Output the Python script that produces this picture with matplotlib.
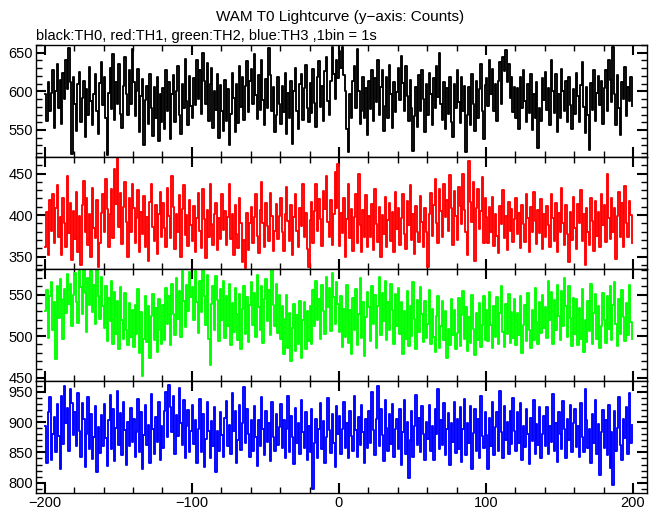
import numpy as np
import matplotlib
matplotlib.use('Agg')
import matplotlib.pyplot as plt
from matplotlib.ticker import MultipleLocator

plt.rcParams['font.family'] = ['Liberation Sans', 'DejaVu Sans']

# 1 s bins, t = -200 ... 199
t_start = -200

th0 = [596, 561, 612, 574, 598, 628, 553, 601, 635, 579, 615, 558, 624, 590, 641, 603, 656, 612, 519, 618,
       583, 549, 609, 625, 560, 592, 614, 541, 603, 570, 631, 588, 556, 597, 622, 574, 545, 611, 638, 582,
       619, 566, 518, 598, 630, 577, 648, 563, 612, 584, 636, 571, 553, 607, 644, 596, 570, 627, 583, 655,
       612, 568, 601, 629, 548, 594, 616, 531, 589, 607, 558, 623, 579, 542, 605, 566, 618, 536, 597, 560,
       604, 551, 627, 575, 612, 538, 596, 621, 560, 601, 633, 569, 545, 610, 578, 642, 587, 556, 620, 581,
       565, 617, 582, 641, 590, 628, 571, 650, 614, 583, 637, 562, 609, 630, 553, 601, 576, 622, 540, 608,
       574, 549, 615, 562, 603, 530, 571, 624, 592, 548, 609, 559, 633, 580, 618, 563, 607, 639, 573, 614,
       629, 583, 648, 595, 564, 621, 576, 640, 589, 557, 616, 579, 656, 621, 574, 606, 547, 570, 618, 584,
       558, 607, 573, 624, 545, 598, 566, 613, 532, 600, 630, 575, 551, 609, 622, 563, 604, 634, 578, 560,
       611, 572, 629, 585, 554, 618, 639, 580, 607, 561, 626, 645, 588, 570, 614, 658, 623, 590, 641, 617,
       652, 630, 657, 621, 600, 551, 522, 596, 565, 614, 633, 579, 655, 601, 558, 574, 619, 566, 604, 543,
       613, 577, 628, 561, 617, 586, 640, 569, 606, 627, 549, 581, 618, 565, 634, 597, 552, 612, 573, 599,
       630, 589, 646, 611, 575, 633, 594, 561, 615, 579, 523, 568, 606, 554, 621, 575, 628, 590, 547, 610,
       570, 624, 597, 556, 617, 578, 633, 593, 650, 584, 563, 612, 551, 604, 571, 618, 560, 541, 609, 578,
       627, 586, 559, 619, 575, 607, 521, 569, 605, 557, 622, 584, 549, 613, 565, 603, 635, 574, 538, 608,
       617, 581, 640, 597, 629, 574, 609, 561, 614, 638, 584, 645, 626, 653, 612, 635, 592, 619, 573, 605,
       566, 604, 551, 618, 579, 628, 588, 560, 610, 572, 623, 550, 597, 565, 612, 527, 578, 561, 617, 589,
       625, 576, 604, 557, 641, 600, 572, 622, 548, 596, 565, 629, 601, 574, 613, 560, 619, 582, 551, 603,
       571, 624, 594, 560, 608, 638, 580, 546, 606, 569, 524, 611, 576, 627, 561, 598, 620, 582, 613, 558,
       604, 628, 575, 640, 615, 586, 657, 597, 557, 621, 579, 544, 612, 590, 632, 568, 605, 587, 618, 581]

th1 = [361, 404, 352, 418, 381, 425, 366, 409, 436, 373, 398, 352, 421, 390, 362, 447, 378, 414, 346, 405,
       371, 428, 356, 399, 340, 412, 441, 379, 420, 364, 401, 349, 433, 385, 372, 418, 337, 366, 402, 425,
       380, 444, 407, 362, 401, 431, 372, 456, 413, 469, 386, 427, 365, 410, 440, 392, 350, 421, 379, 437,
       409, 366, 397, 430, 355, 404, 377, 423, 361, 398, 345, 416, 438, 386, 369, 412, 353, 401, 428, 374,
       414, 385, 362, 433, 399, 372, 447, 410, 359, 401, 380, 424, 350, 407, 436, 376, 400, 363, 418, 388,
       369, 411, 356, 397, 427, 381, 360, 431, 395, 348, 406, 373, 437, 389, 364, 401, 415, 358, 396, 371,
       426, 382, 405, 364, 398, 438, 371, 401, 352, 412, 377, 360, 421, 390, 343, 370, 336, 402, 358, 391,
       410, 366, 398, 425, 375, 354, 406, 440, 391, 362, 414, 387, 369, 427, 399, 357, 381, 413, 371, 399,
       421, 380, 357, 401, 434, 393, 369, 412, 352, 398, 426, 381, 362, 408, 387, 437, 373, 402, 359, 338,
       394, 416, 366, 405, 438, 381, 419, 395, 363, 429, 407, 447, 392, 374, 418, 364, 401, 452, 409, 462,
       363, 403, 378, 421, 350, 395, 437, 372, 407, 357, 398, 426, 366, 449, 388, 355, 406, 374, 424, 361,
       399, 373, 413, 358, 431, 389, 367, 410, 349, 400, 377, 422, 361, 394, 414, 369, 404, 356, 428, 383,
       408, 364, 396, 425, 377, 359, 417, 388, 436, 370, 401, 353, 411, 379, 367, 423, 392, 362, 409, 380,
       338, 401, 427, 375, 412, 444, 390, 366, 431, 405, 373, 437, 398, 418, 381, 448, 409, 364, 429, 399,
       370, 434, 411, 389, 450, 406, 379, 352, 465, 416, 392, 440, 345, 409, 431, 383, 405, 446, 366, 420,
       398, 366, 410, 379, 422, 363, 401, 375, 354, 411, 389, 430, 372, 399, 358, 416, 381, 407, 368, 395,
       421, 377, 402, 360, 412, 389, 368, 426, 396, 355, 410, 380, 428, 393, 365, 406, 378, 419, 359, 401,
       374, 411, 388, 362, 425, 396, 369, 414, 356, 402, 380, 433, 391, 364, 412, 377, 343, 404, 370, 422,
       385, 359, 413, 390, 430, 369, 401, 340, 409, 379, 364, 421, 393, 357, 417, 375, 404, 361, 426, 388,
       412, 367, 449, 396, 371, 421, 380, 408, 347, 399, 428, 374, 414, 362, 435, 390, 373, 417, 400, 366]

th2 = [530, 556, 498, 548, 565, 507, 541, 472, 560, 522, 569, 545, 497, 557, 528, 575, 539, 563, 512, 550,
       576, 541, 516, 580, 559, 527, 584, 552, 505, 570, 538, 579, 529, 562, 515, 583, 549, 521, 571, 536,
       510, 561, 494, 546, 518, 566, 490, 553, 503, 542, 485, 559, 520, 497, 552, 508, 489, 540, 499, 531,
       487, 538, 503, 557, 480, 529, 452, 497, 548, 493, 536, 474, 524, 551, 495, 534, 481, 545, 507, 490,
       538, 496, 558, 515, 549, 489, 563, 527, 502, 570, 521, 555, 499, 578, 543, 511, 562, 530, 577, 547,
       559, 520, 579, 541, 504, 566, 529, 581, 548, 513, 574, 497, 465, 539, 561, 508, 572, 544, 494, 557,
       519, 566, 498, 549, 512, 563, 489, 540, 505, 558, 527, 496, 551, 484, 533, 560, 503, 547, 493, 538,
       565, 513, 552, 499, 574, 535, 507, 560, 492, 545, 569, 518, 556, 501, 580, 538, 512, 563, 504, 550,
       497, 537, 479, 521, 550, 486, 528, 470, 510, 539, 482, 525, 491, 543, 474, 519, 541, 485, 530, 494,
       536, 490, 556, 512, 567, 519, 545, 497, 562, 530, 503, 571, 535, 558, 506, 576, 547, 515, 565, 539,
       505, 549, 487, 533, 499, 562, 492, 531, 478, 546, 508, 557, 489, 527, 570, 498, 541, 476, 523, 553,
       535, 494, 561, 515, 550, 486, 536, 571, 502, 552, 518, 566, 495, 541, 507, 563, 532, 490, 551, 512,
       558, 503, 541, 479, 530, 497, 554, 488, 536, 500, 565, 521, 484, 544, 505, 559, 527, 493, 542, 498,
       515, 556, 491, 533, 499, 481, 524, 549, 486, 512, 543, 495, 530, 474, 509, 489, 545, 501, 531, 484,
       504, 546, 488, 525, 555, 497, 535, 482, 523, 492, 550, 509, 477, 528, 495, 540, 487, 513, 548, 496,
       532, 494, 553, 514, 486, 536, 499, 547, 490, 528, 560, 505, 487, 539, 503, 551, 492, 529, 498, 545,
       489, 528, 502, 549, 480, 513, 538, 494, 552, 508, 486, 531, 496, 558, 517, 491, 541, 504, 550, 510,
       535, 498, 566, 519, 553, 490, 544, 507, 562, 524, 496, 555, 512, 570, 537, 499, 560, 522, 488, 546,
       503, 545, 489, 534, 497, 557, 481, 520, 493, 543, 506, 563, 491, 528, 551, 497, 536, 486, 512, 552,
       520, 492, 549, 509, 561, 496, 538, 565, 515, 488, 545, 503, 556, 523, 494, 540, 502, 562, 517, 497]

th3 = [893, 832, 916, 941, 838, 881, 909, 851, 930, 877, 823, 944, 864, 960, 899, 924, 852, 955, 931, 878,
       917, 861, 948, 886, 843, 931, 905, 826, 880, 942, 855, 914, 839, 876, 927, 818, 892, 849, 912, 860,
       930, 874, 827, 903, 945, 855, 921, 836, 891, 952, 862, 915, 845, 934, 887, 830, 901, 860, 923, 868,
       905, 842, 884, 938, 851, 917, 822, 879, 929, 862, 896, 833, 946, 889, 848, 908, 867, 933, 837, 894,
       858, 918, 950, 875, 962, 925, 884, 943, 847, 912, 877, 957, 898, 862, 936, 840, 893, 920, 850, 885,
       928, 864, 903, 833, 888, 939, 850, 914, 826, 873, 934, 886, 841, 902, 860, 925, 817, 885, 853, 916,
       879, 842, 907, 935, 860, 895, 847, 948, 886, 918, 832, 871, 929, 854, 899, 958, 865, 921, 880, 843,
       903, 853, 927, 876, 828, 904, 860, 941, 888, 845, 919, 868, 899, 836, 933, 876, 852, 913, 862, 892,
       930, 857, 904, 841, 889, 944, 850, 911, 876, 831, 923, 865, 898, 847, 937, 884, 858, 916, 838, 893,
       851, 921, 790, 866, 905, 840, 888, 931, 856, 902, 833, 875, 940, 887, 849, 914, 865, 826, 927, 881,
       910, 847, 889, 934, 858, 898, 841, 918, 877, 853, 943, 887, 843, 909, 862, 929, 883, 832, 905, 857,
       919, 866, 950, 887, 846, 906, 959, 860, 922, 879, 836, 937, 891, 852, 913, 864, 930, 842, 888, 906,
       856, 921, 829, 884, 937, 847, 900, 808, 871, 918, 842, 893, 945, 862, 907, 851, 926, 880, 837, 901,
       872, 929, 853, 894, 838, 922, 881, 955, 856, 903, 862, 931, 845, 888, 915, 829, 898, 867, 934, 849,
       906, 856, 925, 835, 889, 939, 846, 899, 866, 927, 822, 882, 921, 853, 905, 840, 944, 877, 858, 916,
       878, 822, 907, 861, 933, 845, 892, 917, 852, 952, 884, 840, 926, 871, 901, 848, 918, 864, 940, 886,
       853, 916, 866, 931, 838, 894, 859, 922, 881, 831, 907, 869, 936, 847, 897, 862, 925, 841, 880, 910,
       860, 925, 847, 893, 867, 946, 852, 899, 834, 917, 880, 856, 935, 888, 841, 906, 870, 929, 850, 898,
       922, 859, 893, 842, 931, 876, 851, 954, 903, 858, 889, 832, 914, 866, 937, 848, 897, 812, 883, 920,
       857, 904, 845, 929, 824, 883, 796, 918, 853, 891, 941, 862, 838, 906, 874, 925, 847, 948, 865, 895]

series = [th0, th1, th2, th3]
colors = ['black', 'red', '#00ff00', 'blue']
ylims = [(515, 660), (335, 470), (446, 581), (783, 968)]
yticks = [[550, 600, 650], [350, 400, 450], [450, 500, 550], [800, 850, 900, 950]]

fig, axes = plt.subplots(4, 1, sharex=True, figsize=(6.6, 5.15), dpi=100)
fig.subplots_adjust(left=36/660, right=647/660, top=1-45/515, bottom=1-493/515, hspace=0)

for ax, vals, c, yl, yt in zip(axes, series, colors, ylims, yticks):
    t = np.arange(t_start, t_start + len(vals))
    ax.step(t, vals, where='post', color=c, lw=1.35)
    ax.set_ylim(yl)
    ax.set_yticks(yt)
    ax.yaxis.set_minor_locator(MultipleLocator(10))
    ax.set_xlim(-206, 209.5)
    ax.xaxis.set_major_locator(MultipleLocator(100))
    ax.xaxis.set_minor_locator(MultipleLocator(20))
    ax.tick_params(which='both', direction='in', top=True, right=True, labelsize=10.5, pad=2)
    ax.tick_params(which='major', length=7, width=1.5)
    ax.tick_params(which='minor', length=4, width=1)
    for s in ax.spines.values():
        s.set_linewidth(1.0)

fig.text(0.515, 1 - 17/515, 'WAM T0 Lightcurve (y\u2212axis: Counts)', ha='center', va='center', fontsize=11)
fig.text(36/660, 1 - 36/515, 'black:TH0, red:TH1, green:TH2, blue:TH3 ,1bin = 1s', ha='left', va='center', fontsize=10.5)

plt.savefig('out.png', dpi=100)
